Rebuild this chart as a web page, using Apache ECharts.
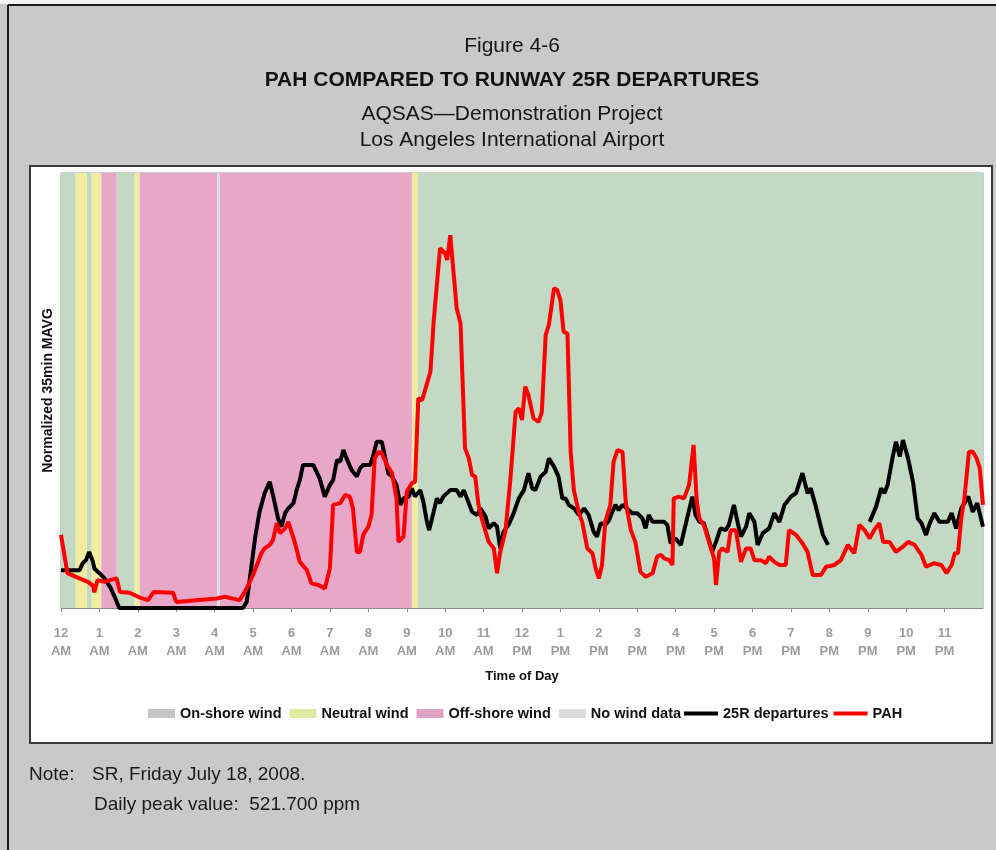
<!DOCTYPE html>
<html>
<head>
<meta charset="utf-8">
<title>PAH compared to runway 25R departures</title>
<script src="https://cdn.jsdelivr.net/npm/echarts@6/dist/echarts.min.js"></script>
<style>
  html, body { margin: 0; padding: 0; background: #c9c9c9; }
  #chart { width: 996px; height: 850px; }
</style>
</head>
<body>
<div id="chart"></div>
<script>
// ---- Data -------------------------------------------------------------
// Time is minutes after midnight; values are the normalized 35-min moving average.
const hourLabels = [
  '12\nAM', '1\nAM', '2\nAM', '3\nAM', '4\nAM', '5\nAM', '6\nAM', '7\nAM', '8\nAM', '9\nAM', '10\nAM', '11\nAM',
  '12\nPM', '1\nPM', '2\nPM', '3\nPM', '4\nPM', '5\nPM', '6\nPM', '7\nPM', '8\nPM', '9\nPM', '10\nPM', '11\nPM'
];

// Wind regime periods, [start, end] in minutes
const onshoreWind  = [[0, 23], [40, 48], [87, 115], [557, 1440]];
const neutralWind  = [[23, 40], [48, 63], [115, 123], [548, 557]];
const offshoreWind = [[63, 87], [123, 244], [248, 548]];
const noWindData   = [[244, 248]];

// Runway 25R departures (null = no data)
const depMinutes = [
  0, 29, 34, 39, 44, 50, 52, 60, 68, 78, 86, 91, 284, 290, 297, 303, 310, 318, 326, 331,
  339, 344, 350, 355, 363, 368, 373, 378, 394, 404, 412, 420, 425, 431, 436, 441, 446, 454, 462, 467,
  472, 483, 488, 493, 501, 506, 511, 517, 524, 530, 535, 543, 548, 553, 561, 566, 571, 575, 582, 587,
  592, 597, 608, 618, 624, 629, 634, 642, 650, 655, 663, 668, 676, 681, 686, 691, 699, 707, 715, 723,
  730, 736, 741, 749, 757, 762, 770, 777, 783, 788, 793, 801, 809, 817, 824, 832, 837, 843, 850, 856,
  861, 866, 871, 877, 884, 892, 900, 908, 913, 918, 924, 942, 947, 952, 960, 968, 976, 984, 986, 991,
  997, 1004, 1012, 1017, 1023, 1030, 1038, 1043, 1051, 1057, 1062, 1070, 1075, 1083, 1088, 1096, 1106, 1114, 1122, 1130,
  1140, 1148, 1158, 1166, 1171, 1179, 1190, 1198, 1230, 1263, 1273, 1281, 1286, 1291, 1299, 1304, 1310, 1315, 1323, 1331,
  1338, 1344, 1351, 1357, 1364, 1372, 1385, 1391, 1398, 1406, 1417, 1424, 1431, 1440
];
const depValues = [
  8.7, 8.7, 10.3, 11.0, 12.9, 10.6, 9.1, 8.0, 6.8, 4.5, 1.8, 0, 0, 1.4, 9.1, 16.0, 22.1, 26.4, 29.0, 26.0,
  20.6, 18.7, 21.8, 22.9, 24.1, 27.1, 29.4, 32.9, 32.9, 29.8, 25.6, 28.3, 29.4, 34.0, 33.6, 36.3, 34.4, 31.7, 30.2, 32.1,
  32.9, 32.9, 35.2, 38.2, 38.2, 34.8, 31.0, 30.2, 28.3, 23.7, 25.2, 25.6, 27.5, 25.6, 27.1, 24.4, 20.2, 17.9, 22.1, 25.2,
  24.1, 25.6, 27.1, 27.1, 25.6, 27.1, 25.2, 22.1, 21.4, 22.9, 21.0, 18.3, 19.5, 18.7, 13.7, 17.5, 19.1, 21.8, 25.2, 27.1,
  31.0, 27.5, 27.1, 30.2, 31.3, 34.4, 32.5, 30.2, 25.2, 25.2, 23.7, 22.9, 21.4, 22.9, 21.4, 17.5, 16.4, 19.5, 19.1, 20.2,
  22.1, 23.7, 22.5, 23.7, 22.9, 21.8, 21.8, 20.6, 18.3, 21.4, 19.8, 19.8, 19.1, 14.9, 16.0, 14.5, 19.5, 24.4, 25.6, 21.4,
  19.8, 19.5, 15.6, 12.9, 15.2, 18.3, 17.9, 19.1, 23.7, 19.5, 16.4, 18.7, 21.8, 19.8, 14.5, 17.2, 18.3, 21.8, 19.8, 23.7,
  25.6, 26.4, 31.0, 26.4, 27.5, 23.3, 16.8, 14.5, null, 19.8, 23.3, 27.5, 26.4, 28.3, 34.8, 38.2, 34.8, 38.6, 34.4, 28.7,
  20.6, 19.5, 16.8, 19.5, 21.8, 19.8, 19.8, 21.8, 18.3, 22.9, 25.6, 22.1, 24.1, 18.7
];

// PAH
const pahMinutes = [
  0, 10, 29, 42, 50, 52, 57, 68, 76, 87, 92, 107, 123, 136, 145, 175, 180, 211, 243, 256,
  279, 290, 300, 313, 318, 326, 331, 337, 342, 350, 355, 360, 365, 373, 384, 391, 402, 412, 420, 425,
  436, 444, 451, 456, 462, 467, 472, 480, 485, 490, 496, 501, 509, 517, 524, 527, 535, 540, 548, 553,
  558, 564, 571, 577, 582, 592, 600, 603, 608, 613, 618, 624, 631, 637, 642, 647, 652, 657, 668, 676,
  681, 686, 694, 702, 710, 715, 720, 725, 730, 738, 746, 751, 757, 762, 770, 775, 780, 785, 791, 796,
  801, 809, 814, 822, 830, 835, 840, 845, 850, 858, 863, 869, 877, 882, 890, 897, 905, 913, 924, 931,
  937, 942, 950, 955, 957, 965, 973, 981, 988, 993, 997, 1004, 1012, 1020, 1023, 1028, 1033, 1041, 1046, 1054,
  1062, 1070, 1077, 1083, 1093, 1101, 1106, 1114, 1122, 1132, 1137, 1148, 1158, 1166, 1174, 1187, 1195, 1208, 1218, 1229,
  1239, 1247, 1255, 1263, 1270, 1278, 1284, 1294, 1304, 1315, 1323, 1333, 1344, 1351, 1364, 1375, 1383, 1391, 1396, 1401,
  1406, 1411, 1418, 1424, 1430, 1435, 1440
];
const pahValues = [
  16.8, 8.0, 6.8, 6.0, 5.1, 3.6, 6.4, 6.0, 6.4, 6.8, 3.7, 3.5, 2.4, 1.8, 3.7, 3.5, 1.4, 1.8, 2.2, 2.6,
  1.8, 4.5, 7.6, 12.6, 13.7, 14.5, 15.6, 19.5, 17.2, 18.3, 19.8, 17.5, 15.2, 10.6, 8.7, 5.7, 5.3, 4.5, 9.1, 23.7,
  24.1, 26.0, 25.6, 22.9, 12.9, 12.9, 16.8, 18.7, 21.4, 34.4, 35.9, 35.6, 32.9, 31.0, 25.2, 15.2, 16.4, 26.7, 28.7, 29.0,
  48.2, 47.8, 51.3, 54.3, 65.8, 82.7, 81.5, 80.0, 85.7, 77.3, 68.9, 65.4, 36.7, 34.4, 30.6, 30.2, 23.7, 20.6, 15.2, 13.7,
  8.0, 12.9, 17.5, 29.8, 45.1, 45.9, 43.2, 50.9, 49.0, 43.6, 42.8, 45.1, 62.8, 65.1, 73.5, 73.1, 70.8, 63.5, 63.1, 35.9,
  27.1, 21.8, 19.8, 13.7, 12.6, 9.1, 6.8, 9.9, 19.8, 23.7, 33.6, 36.3, 35.9, 24.4, 17.9, 15.2, 8.3, 7.2, 8.0, 11.8,
  12.2, 11.4, 11.0, 9.9, 25.2, 25.6, 25.2, 28.3, 37.5, 24.4, 20.6, 19.1, 15.2, 11.4, 5.3, 12.9, 13.7, 12.9, 17.9, 17.9,
  10.6, 13.7, 13.7, 11.0, 11.0, 10.3, 11.8, 10.6, 9.9, 9.9, 17.9, 16.8, 14.9, 12.9, 7.6, 7.6, 9.5, 9.9, 11.0, 14.5,
  12.6, 19.1, 17.9, 16.0, 17.9, 19.5, 15.2, 15.2, 12.9, 14.1, 15.2, 14.5, 12.2, 9.5, 10.3, 9.9, 8.0, 9.9, 12.6, 12.6,
  20.6, 25.2, 35.9, 35.9, 34.4, 32.1, 23.7
];

// ---- Chart ------------------------------------------------------------
const FONT = '"Liberation Sans", Arial, Helvetica, sans-serif';
const Y_MAX = 100;

const pairs = (xs, ys) => xs.map((x, i) => [x, ys[i]]);

function renderBand(params, api) {
  const topLeft = api.coord([api.value(0), Y_MAX]);
  const bottomRight = api.coord([api.value(1), 0]);
  return {
    type: 'rect',
    shape: {
      x: topLeft[0],
      y: topLeft[1],
      width: bottomRight[0] - topLeft[0],
      height: bottomRight[1] - topLeft[1]
    },
    style: api.style()
  };
}

function bandSeries(name, periods, color) {
  return {
    name: name,
    type: 'custom',
    renderItem: renderBand,
    data: periods,
    encode: { x: [0, 1] },
    itemStyle: { color: color },
    silent: true,
    z: 1
  };
}

const legendText = { fontFamily: FONT, fontSize: 14.5, fontWeight: 'bold', color: '#111' };

const chart = echarts.init(document.getElementById('chart'), null, { renderer: 'canvas' });

chart.setOption({
  animation: false,
  backgroundColor: '#c9c9c9',
  textStyle: { fontFamily: FONT },
  graphic: [
    // page frame
    { type: 'rect', z: -10, shape: { x: 0, y: 0, width: 996, height: 4 }, style: { fill: '#f2f2f2' } },
    { type: 'line', z: -9, shape: { x1: 8, y1: 5, x2: 996, y2: 5 }, style: { stroke: '#1c1c1c', lineWidth: 2 } },
    { type: 'line', z: -9, shape: { x1: 8, y1: 5, x2: 8, y2: 850 }, style: { stroke: '#1c1c1c', lineWidth: 2 } },
    // white chart panel
    { type: 'rect', z: -8, shape: { x: 30, y: 166, width: 962, height: 577 },
      style: { fill: '#ffffff', stroke: '#3a3a3a', lineWidth: 2 } },
    // headings
    { type: 'text', x: 512, y: 46, style: { text: 'Figure 4-6', font: '21px ' + FONT, fill: '#151515', textAlign: 'center', textVerticalAlign: 'middle' } },
    { type: 'text', x: 512, y: 80, style: { text: 'PAH COMPARED TO RUNWAY 25R DEPARTURES', font: 'bold 21px ' + FONT, fill: '#111', textAlign: 'center', textVerticalAlign: 'middle' } },
    { type: 'text', x: 512, y: 114, style: { text: 'AQSAS\u2014Demonstration Project', font: '21px ' + FONT, fill: '#151515', textAlign: 'center', textVerticalAlign: 'middle' } },
    { type: 'text', x: 512, y: 140, style: { text: 'Los Angeles International Airport', font: '21px ' + FONT, fill: '#151515', textAlign: 'center', textVerticalAlign: 'middle' } },
    // notes
    { type: 'text', x: 29, y: 775, style: { text: 'Note:', font: '19px ' + FONT, fill: '#1a1a1a', textVerticalAlign: 'middle' } },
    { type: 'text', x: 92, y: 775, style: { text: 'SR, Friday July 18, 2008.', font: '19px ' + FONT, fill: '#1a1a1a', textVerticalAlign: 'middle' } },
    { type: 'text', x: 94, y: 805, style: { text: 'Daily peak value:  521.700 ppm', font: '19px ' + FONT, fill: '#1a1a1a', textVerticalAlign: 'middle' } }
  ],
  grid: {
    left: 61, right: 13, top: 173, bottom: 242,
    show: true, borderColor: '#9a9a9a', borderWidth: 1
  },
  xAxis: {
    type: 'value',
    min: 0, max: 1440, interval: 60,
    name: 'Time of Day',
    nameLocation: 'middle',
    nameGap: 62,
    nameTextStyle: { fontFamily: FONT, fontSize: 13, fontWeight: 'bold', color: '#111' },
    axisLine: { show: true, lineStyle: { color: '#8c8c8c', width: 1 } },
    axisTick: { show: true, length: 4, lineStyle: { color: '#8c8c8c' } },
    splitLine: { show: false },
    axisLabel: {
      margin: 16,
      fontFamily: FONT, fontSize: 13, fontWeight: 'bold', color: '#9c9c9c', lineHeight: 18,
      showMaxLabel: false,
      formatter: v => (v >= 1440 ? '' : hourLabels[Math.round(v / 60)])
    }
  },
  yAxis: {
    type: 'value',
    min: 0, max: Y_MAX,
    name: 'Normalized 35min MAVG',
    nameLocation: 'middle',
    nameRotate: 90,
    nameGap: 6,
    nameTextStyle: { fontFamily: FONT, fontSize: 14, fontWeight: 'bold', color: '#111' },
    axisLine: { show: false },
    axisTick: { show: false },
    axisLabel: { show: false },
    splitLine: { show: false }
  },
  legend: [
    {
      left: 148, top: 706, padding: 0,
      icon: 'rect', itemWidth: 27, itemHeight: 9, itemGap: 8,
      textStyle: legendText,
      data: [
        { name: 'On-shore wind', itemStyle: { color: '#c6c6c4' } },
        { name: 'Neutral wind', itemStyle: { color: '#dfeaa0' } },
        { name: 'Off-shore wind', itemStyle: { color: '#dea3c2' } },
        { name: 'No wind data', itemStyle: { color: '#dadada' } }
      ]
    },
    {
      left: 684, top: 706, padding: 0,
      icon: 'rect', itemWidth: 34, itemHeight: 4, itemGap: 5,
      textStyle: legendText,
      data: ['25R departures', 'PAH']
    }
  ],
  series: [
    bandSeries('On-shore wind', onshoreWind, '#c3d9c4'),
    bandSeries('Neutral wind', neutralWind, '#f1ec9e'),
    bandSeries('Off-shore wind', offshoreWind, '#e8a7c9'),
    bandSeries('No wind data', noWindData, '#d3ddd8'),
    {
      name: '25R departures',
      type: 'line',
      data: pairs(depMinutes, depValues),
      connectNulls: false,
      showSymbol: false,
      color: '#000000',
      lineStyle: { color: '#000000', width: 4 },
      z: 3
    },
    {
      name: 'PAH',
      type: 'line',
      data: pairs(pahMinutes, pahValues),
      showSymbol: false,
      color: '#ff0000',
      lineStyle: { color: '#ff0000', width: 4 },
      z: 4
    }
  ]
});
</script>
</body>
</html>
